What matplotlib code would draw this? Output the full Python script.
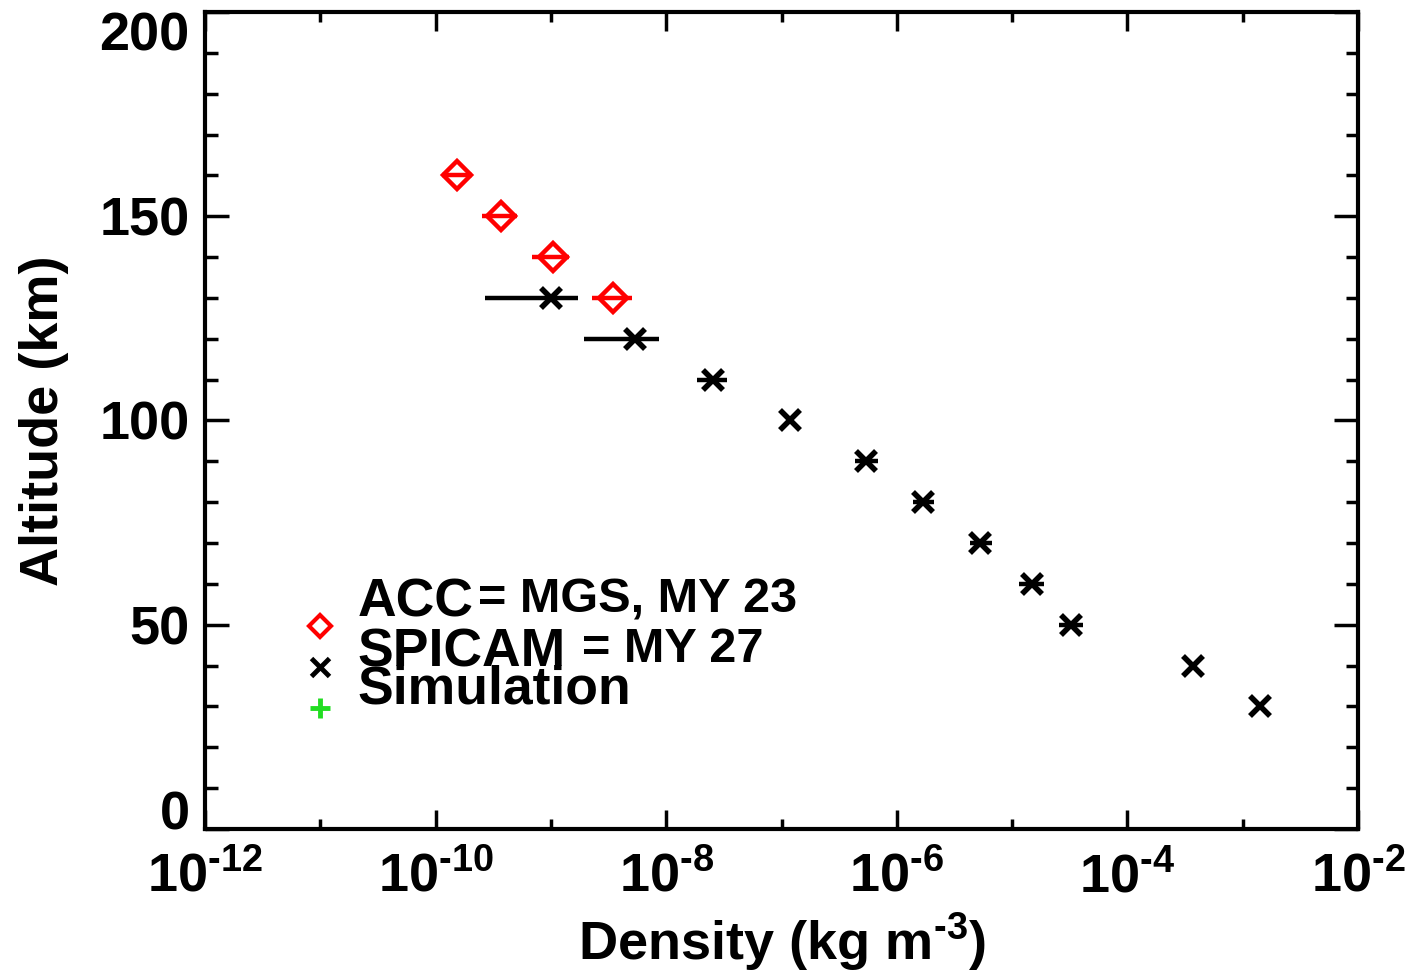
import numpy as np
import matplotlib
matplotlib.use('Agg')
import matplotlib.pyplot as plt
from matplotlib.ticker import FixedLocator, NullFormatter

plt.rcParams['font.family'] = ['Liberation Sans', 'DejaVu Sans']
plt.rcParams['font.weight'] = 'bold'
plt.rcParams['mathtext.fontset'] = 'custom'
plt.rcParams['mathtext.rm'] = 'Liberation Sans:bold'
plt.rcParams['mathtext.default'] = 'rm'

# ACC (MGS, MY 23) density profile with low/high bounds
acc_alt = [160, 150, 140, 130]
acc_dens = [1.53e-10, 3.69e-10, 1.04e-9, 3.46e-9]
acc_lo = [1.13e-10, 2.52e-10, 6.85e-10, 2.27e-9]
acc_hi = [2.07e-10, 5.08e-10, 1.44e-9, 5.05e-9]

# SPICAM (MY 27)
spi_alt = [130, 120, 110, 100, 90, 80, 70, 60, 50, 40, 30]
spi_dens = [1.0e-9, 5.36e-9, 2.55e-8, 1.19e-7, 5.41e-7, 1.69e-6, 5.26e-6,
            1.49e-5, 3.24e-5, 3.71e-4, 1.41e-3]
spi_lo = [2.68e-10, 1.94e-9, 1.85e-8, 1.19e-7, 4.34e-7, 1.38e-6, 4.31e-6,
          1.15e-5, 2.55e-5, 3.71e-4, 1.41e-3]
spi_hi = [1.72e-9, 8.67e-9, 3.37e-8, 1.19e-7, 6.87e-7, 2.10e-6, 6.70e-6,
          1.89e-5, 4.12e-5, 3.71e-4, 1.41e-3]

xtick_vals = [1e-12, 1e-10, 1e-8, 1e-6, 1e-4, 1e-2]
xtick_labels = ['$10^{\\text{-12}}$', '$10^{\\text{-10}}$', '$10^{\\text{-8}}$',
                '$10^{\\text{-6}}$', '$10^{\\text{-4}}$', '$10^{\\text{-2}}$']
ytick_vals = [0, 50, 100, 150, 200]

fig = plt.figure(figsize=(14.14, 9.71), dpi=100)
ax = fig.add_axes([205/1414, 1 - 829/971, 1153/1414, 817/971])

ax.set_xscale('log')
ax.set_xlim(1e-12, 1e-2)
ax.set_ylim(0, 200)

# error bars
acc_d = np.array(acc_dens)
ax.errorbar(acc_dens, acc_alt,
            xerr=[acc_d - np.array(acc_lo), np.array(acc_hi) - acc_d],
            fmt='none', ecolor='red', elinewidth=3.2, capsize=0, zorder=2)
spi_d = np.array(spi_dens)
ax.errorbar(spi_dens, spi_alt,
            xerr=[spi_d - np.array(spi_lo), np.array(spi_hi) - spi_d],
            fmt='none', ecolor='black', elinewidth=3.2, capsize=0, zorder=2)

ax.plot(acc_dens, acc_alt, linestyle='none', marker='D', ms=14, mfc='none',
        mec='red', mew=3.2, zorder=3)
ax.plot(spi_dens, spi_alt, linestyle='none', marker='x', ms=15, mec='black',
        mew=4, zorder=3)

# legend (IDL style, drawn by hand)
ax.plot([0.0997], [0.2485], transform=ax.transAxes, marker='D', ms=11,
        mfc='none', mec='red', mew=3, linestyle='none')
ax.plot([0.0997], [0.198], transform=ax.transAxes, marker='x', ms=13,
        mec='black', mew=3.5, linestyle='none')
ax.plot([0.0997], [0.148], transform=ax.transAxes, marker='+', ms=14,
        mec='#22dd22', mew=3.5, linestyle='none')
fs_name = 38.5
fs_eq = 35
ax.text(0.132, 0.2595, 'ACC', transform=ax.transAxes, fontsize=fs_name,
        fontweight='bold', va='baseline', ha='left')
ax.text(0.237, 0.2644, '= MGS, MY 23', transform=ax.transAxes, fontsize=fs_eq,
        fontweight='bold', va='baseline', ha='left')
ax.text(0.132, 0.1995, 'SPICAM', transform=ax.transAxes, fontsize=fs_name,
        fontweight='bold', va='baseline', ha='left')
ax.text(0.327, 0.2044, '= MY 27', transform=ax.transAxes, fontsize=fs_eq,
        fontweight='bold', va='baseline', ha='left')
ax.text(0.132, 0.154, 'Simulation', transform=ax.transAxes, fontsize=fs_name,
        fontweight='bold', va='baseline', ha='left')

# ticks
ax.xaxis.set_major_locator(FixedLocator(xtick_vals))
ax.set_xticklabels(xtick_labels)
ax.xaxis.set_minor_locator(FixedLocator([1e-11, 1e-9, 1e-7, 1e-5, 1e-3]))
ax.xaxis.set_minor_formatter(NullFormatter())
ax.set_yticks(ytick_vals)
ax.yaxis.set_minor_locator(FixedLocator(np.arange(0, 201, 10)))

ax.tick_params(axis='both', which='both', direction='in', top=True, right=True,
               width=2.5)
ax.tick_params(axis='x', which='major', length=14, pad=16, labelsize=39)
ax.tick_params(axis='x', which='minor', length=7)
ax.tick_params(axis='y', which='major', length=17, pad=11, labelsize=39)
ax.tick_params(axis='y', which='minor', length=9)
ylabs = ax.get_yticklabels()
ylabs[0].set_verticalalignment('baseline')
ylabs[-1].set_verticalalignment('top')
for s in ax.spines.values():
    s.set_linewidth(3)

ax.set_xlabel('Density (kg m$^{\\text{-3}}$)', fontsize=39, fontweight='bold', labelpad=6)
ax.set_ylabel('Altitude (km)', fontsize=39, fontweight='bold', labelpad=22)

fig.savefig('out.png', dpi=100)
